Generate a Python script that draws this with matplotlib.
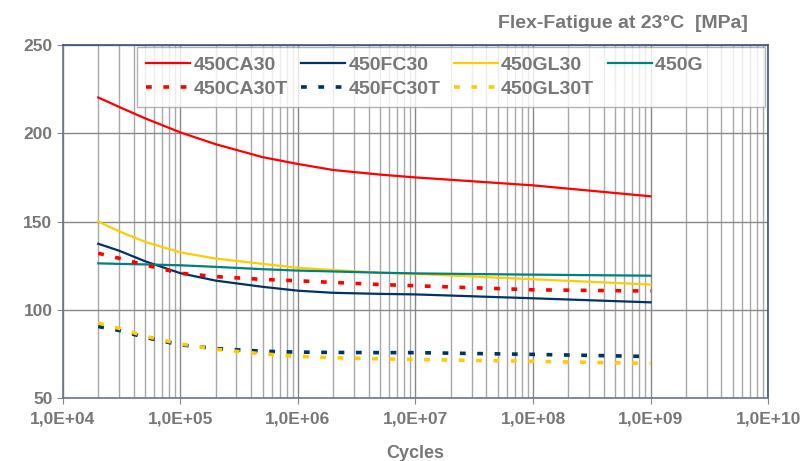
import matplotlib
matplotlib.use("Agg")
import matplotlib.pyplot as plt
from matplotlib import font_manager
from matplotlib.ticker import FixedLocator, LogLocator, NullFormatter

cycles = [2e4, 3e4, 5e4, 1e5, 2e5, 5e5, 1e6, 2e6, 5e6, 1e7, 1e8, 1e9]

ca30 = [220.3, 215.0, 208.5, 200.5, 193.8, 186.5, 182.6, 179.2, 176.6, 175.0, 170.5, 164.3]
fc30 = [137.4, 133.5, 127.5, 120.7, 116.5, 113.0, 110.8, 109.6, 109.0, 108.7, 106.5, 104.2]
gl30 = [150.0, 144.5, 138.5, 132.5, 129.0, 126.0, 123.8, 122.5, 121.0, 120.3, 117.3, 114.3]
g450 = [126.3, 126.0, 125.7, 125.2, 124.3, 123.0, 122.2, 121.7, 121.0, 120.6, 119.9, 119.3]
ca30t = [132.0, 129.2, 125.4, 120.7, 118.8, 117.2, 116.4, 115.5, 114.3, 113.6, 111.3, 110.6]
fc30t = [90.5, 88.3, 84.3, 80.1, 78.0, 76.5, 76.0, 75.8, 75.7, 75.7, 74.7, 73.5]
gl30t = [92.5, 89.5, 85.0, 80.6, 77.6, 75.0, 73.6, 72.8, 72.2, 71.8, 70.8, 69.6]

x_ticks = [1e4, 1e5, 1e6, 1e7, 1e8, 1e9, 1e10]
x_labels = ["1,0E+04", "1,0E+05", "1,0E+06", "1,0E+07", "1,0E+08", "1,0E+09", "1,0E+10"]
y_ticks = [50, 100, 150, 200, 250]

names = {f.name for f in font_manager.fontManager.ttflist}
fam = "Liberation Sans Narrow" if "Liberation Sans Narrow" in names else "Liberation Sans"
plt.rcParams["font.family"] = [fam, "DejaVu Sans"]
plt.rcParams["font.weight"] = "bold"

txt = "#777777"
red, navy, yellow, teal = "#ff0000", "#003366", "#ffcc00", "#008080"

fig = plt.figure(figsize=(8.06, 4.61), dpi=100)
ax = fig.add_axes([0.078, 0.1367, 0.875, 0.7655])

dots = (0, (1.6, 3.2))
l1, = ax.plot(cycles, ca30, color=red, lw=1.6, label="450CA30")
l2, = ax.plot(cycles, fc30, color=navy, lw=1.6, label="450FC30")
l3, = ax.plot(cycles, gl30, color=yellow, lw=1.6, label="450GL30")
l4, = ax.plot(cycles, g450, color=teal, lw=1.6, label="450G")
l5, = ax.plot(cycles, ca30t, color=red, lw=2.6, ls=dots, dash_capstyle="butt", label="450CA30T")
l6, = ax.plot(cycles, fc30t, color=navy, lw=2.6, ls=dots, dash_capstyle="butt", label="450FC30T")
l7, = ax.plot(cycles, gl30t, color=yellow, lw=2.6, ls=dots, dash_capstyle="butt", label="450GL30T")

ax.set_xscale("log")
ax.set_xlim(1e4, 1e10)
ax.set_ylim(50, 250)
ax.xaxis.set_major_locator(FixedLocator(x_ticks))
ax.set_xticklabels(x_labels)
ax.xaxis.set_minor_locator(LogLocator(base=10, subs=range(2, 10), numticks=20))
ax.xaxis.set_minor_formatter(NullFormatter())
ax.set_yticks(y_ticks)

ax.grid(True, which="major", color="#888888", lw=1)
ax.grid(True, which="minor", axis="x", color="#a8a8a8", lw=1)
ax.set_axisbelow(True)

ax.tick_params(axis="both", which="major", labelsize=12.5, labelcolor=txt,
               color="#888888", length=4, direction="out")
ax.tick_params(axis="x", which="minor", length=0)
ax.tick_params(axis="x", pad=6)
for s in ax.spines.values():
    s.set_color("#3a5478")
    s.set_linewidth(1.2)
ax.spines["left"].set_color("#6b7684")
ax.spines["bottom"].set_color("#6b7684")

ax.set_xlabel("Cycles", fontsize=13, color=txt, labelpad=13, fontweight="bold")
fig.text(0.928, 0.948, "Flex-Fatigue at 23°C  [MPa]", ha="right", va="center",
         fontsize=14, color=txt, fontweight="bold")

# legend is filled column by column, so order handles to read row-wise;
# the last label is padded so the four columns come out the same width
handles = [l1, l5, l2, l6, l3, l7, l4]
labels = [h.get_label() for h in handles]
labels[-1] = labels[-1] + " " * 10
leg = ax.legend(handles=handles, labels=labels,
                ncol=4, loc="upper left", bbox_to_anchor=(0.105, 0.83, 0.891, 0.164),
                mode="expand", fontsize=14, frameon=True, fancybox=False,
                handlelength=2.3, columnspacing=0.6, handletextpad=0.15,
                borderpad=0.45, labelspacing=0.35, borderaxespad=0.0)
leg.get_frame().set_edgecolor("#a0a0a0")
leg.get_frame().set_linewidth(1)
for t in leg.get_texts():
    t.set_color(txt)

fig.savefig("out.png", dpi=100)
